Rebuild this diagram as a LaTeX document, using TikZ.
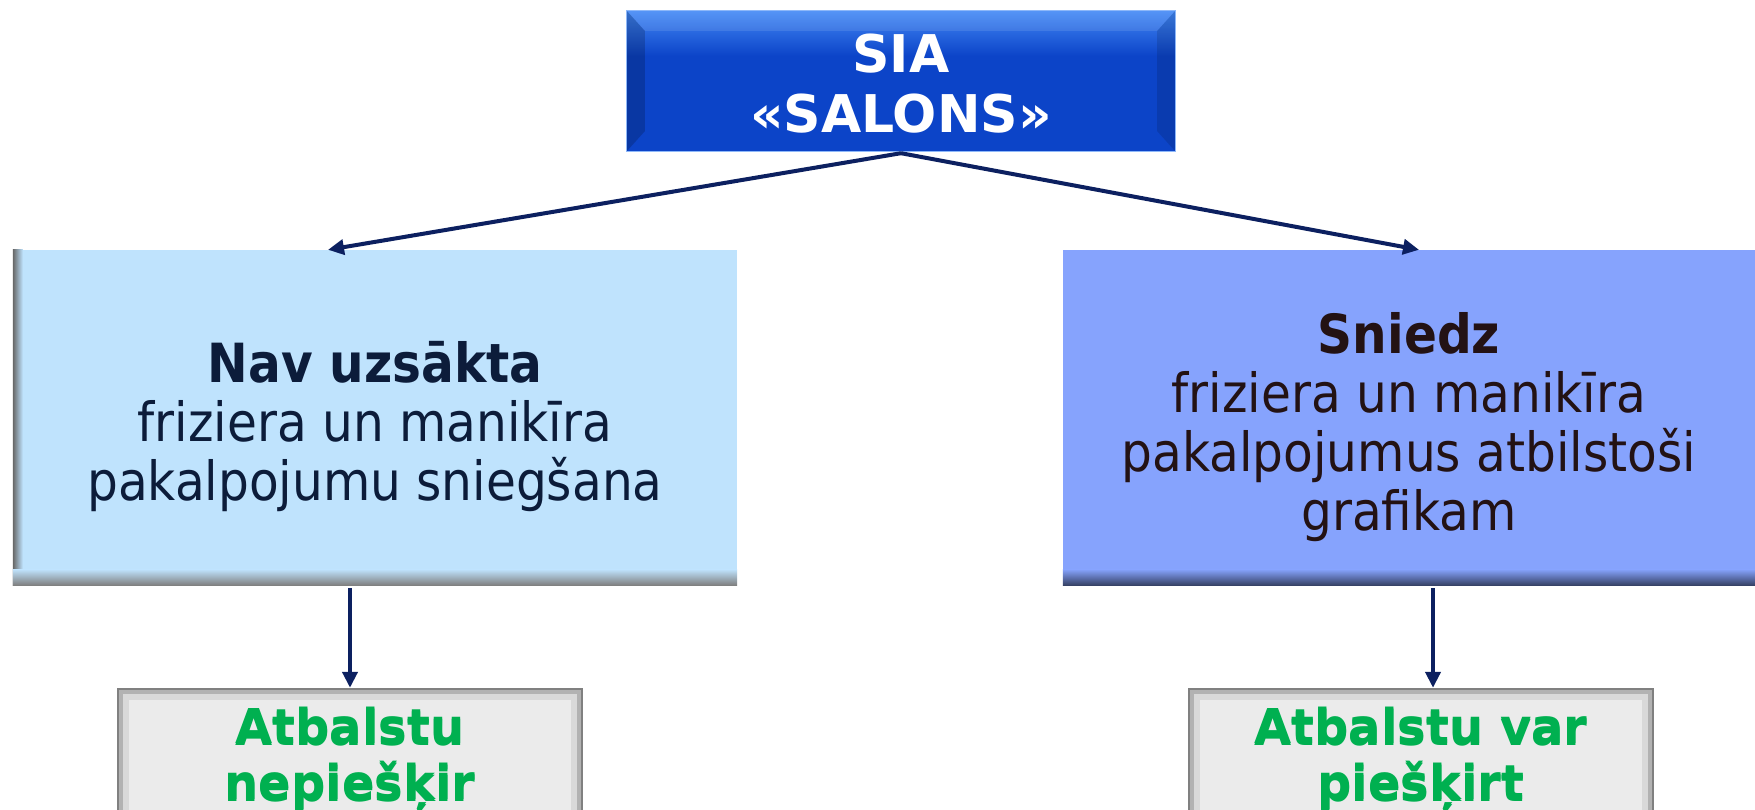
\documentclass[tikz,border=0pt]{standalone}
\usepackage{fontspec}
\setmainfont{DejaVu Sans}
\newfontfamily\condfont{DejaVu Sans Condensed}
\usetikzlibrary{arrows.meta,calc}
\definecolor{navy}{RGB}{12,32,96}
\definecolor{topblue}{RGB}{12,68,200}
\definecolor{toplight}{RGB}{66,136,245}
\definecolor{leftfill}{RGB}{191,227,253}
\definecolor{rightfill}{RGB}{134,163,253}
\definecolor{greyfill}{RGB}{235,235,235}
\definecolor{greentext}{RGB}{0,176,80}
\definecolor{lefttext}{RGB}{12,28,58}
\definecolor{righttext}{RGB}{35,18,20}
\tikzset{
  topbox/.style={fill=topblue, minimum width=548pt, minimum height=140pt, inner sep=0pt,
    align=center, text=white, font={\fontsize{52}{60}\selectfont\bfseries}},
  midbox/.style={inner sep=0pt, align=center, font={\condfont\fontsize{54}{59}\selectfont}},
  leftbox/.style={midbox, fill=leftfill, text=lefttext, minimum width=724pt, minimum height=335pt},
  rightbox/.style={midbox, fill=rightfill, text=righttext, minimum width=692pt, minimum height=335pt},
  resultbox/.style={fill=greyfill, minimum width=466pt, minimum height=140pt, inner sep=0pt,
    align=center, text=greentext, font={\fontsize{48}{56}\selectfont\bfseries}},
  conn/.style={navy, line width=4pt, -{Triangle[length=16pt,width=15pt]}}
}
\begin{document}
\begin{tikzpicture}[x=1pt,y=1pt]
\clip (0,0) rectangle (1755,-810);
\fill[white] (0,0) rectangle (1755,-810);
% top box
\node[topbox] (top) at (901,-81) {SIA\\«SALONS»};
\begin{scope}
\shade[top color=toplight, bottom color=topblue] (top.north west) rectangle ([yshift=-45pt]top.north east);
\fill[topblue] ([yshift=-45pt]top.north west) rectangle (top.south east);
\fill[black,opacity=0.18] (top.north west) -- ([xshift=18pt,yshift=-20pt]top.north west) -- ([xshift=18pt,yshift=20pt]top.south west) -- (top.south west) -- cycle;
\fill[black,opacity=0.12] (top.north east) -- ([xshift=-18pt,yshift=-20pt]top.north east) -- ([xshift=-18pt,yshift=20pt]top.south east) -- (top.south east) -- cycle;
\fill[white,opacity=0.10] (top.north west) -- ([xshift=18pt,yshift=-20pt]top.north west) -- ([xshift=-18pt,yshift=-20pt]top.north east) -- (top.north east) -- cycle;
\draw[toplight!60!white, line width=1pt] (top.north west) rectangle (top.south east);
\end{scope}
\node[topbox, fill=none] at ([yshift=-3pt]top.center) {SIA\\«SALONS»};
% left box
\node[leftbox] (left) at (375,-417.5) {};
\shade[left color=black!60, right color=leftfill] (left.south west) rectangle ([xshift=10pt]left.north west);
\shade[top color=leftfill, bottom color=black!50] ([yshift=16pt]left.south west) rectangle (left.south east);
\node[leftbox, fill=none] at ([yshift=-9pt]left.center) {{\bfseries Nav uzsākta}\\friziera un manikīra\\pakalpojumu sniegšana};
% right box
\node[rightbox] (right) at (1409,-417.5) {};
\shade[top color=rightfill, bottom color=rightfill!40!black] ([yshift=16pt]right.south west) rectangle (right.south east);
\node[rightbox, fill=none] at ([yshift=-10pt]right.center) {{\bfseries Sniedz}\\friziera un manikīra\\pakalpojumus atbilstoši\\grafikam};
% result boxes
\node[resultbox] (bl) at (350,-758) {Atbalstu\\nepiešķir};
\node[resultbox] (br) at (1421,-758) {Atbalstu var\\piešķirt};
\foreach \b in {bl,br}{
  \draw[black!15, line width=10pt] ([xshift=7pt,yshift=-7pt]\b.north west) rectangle ([xshift=-7pt,yshift=7pt]\b.south east);
  \draw[black!30, line width=5pt] ([xshift=4pt,yshift=-4pt]\b.north west) rectangle ([xshift=-4pt,yshift=4pt]\b.south east);
  \draw[black!50, line width=2pt] ([xshift=1pt,yshift=-1pt]\b.north west) rectangle ([xshift=-1pt,yshift=1pt]\b.south east);
}
\node[resultbox, fill=none] at ([yshift=-2pt]bl.center) {Atbalstu\\nepiešķir};
\node[resultbox, fill=none] at ([yshift=-2pt]br.center) {Atbalstu var\\piešķirt};
% connectors
\draw[conn] ([yshift=-2pt]top.south) -- ([xshift=-47pt]left.north);
\draw[conn] ([yshift=-2pt]top.south) -- ([xshift=10pt]right.north);
\draw[conn] ([yshift=-3pt]left.south -| bl.north) -- (bl.north);
\draw[conn] ([xshift=12pt,yshift=-3pt]right.south -| br.north) -- ([xshift=12pt]br.north);
\end{tikzpicture}
\end{document}
